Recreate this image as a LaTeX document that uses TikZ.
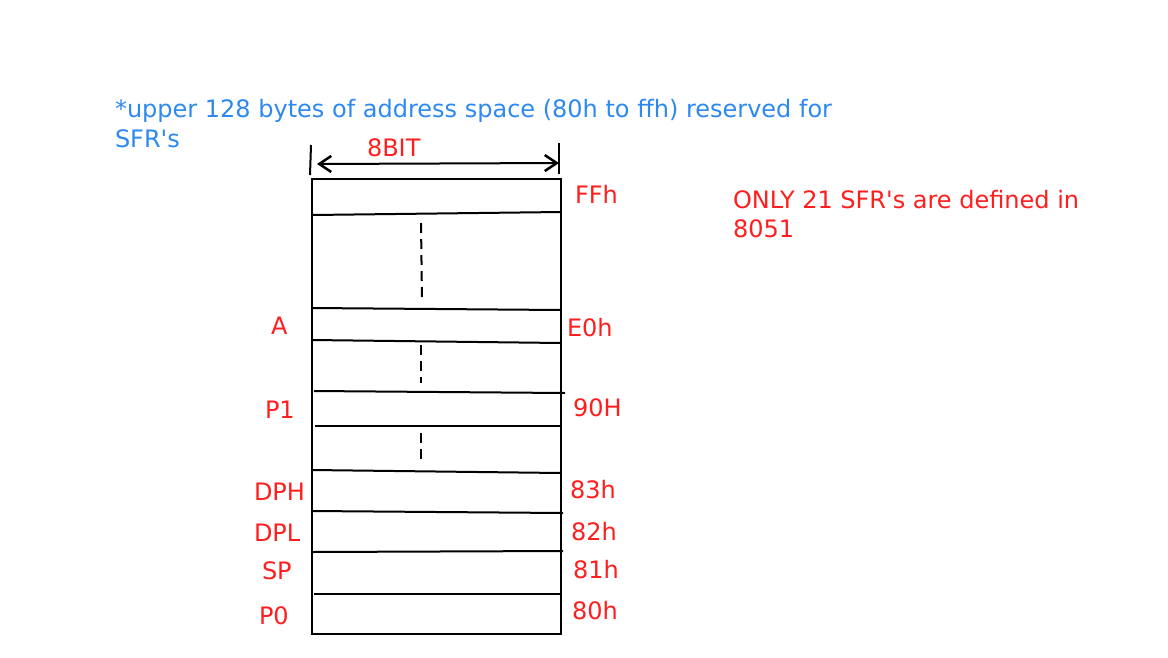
\documentclass[tikz,border=0pt]{standalone}
\usepackage{fontspec}
\setmainfont{DejaVu Sans}
\usetikzlibrary{arrows.meta}
\definecolor{noteblue}{RGB}{45,137,240}
\definecolor{labred}{RGB}{255,30,30}
\tikzset{
  lbl/.style={anchor=base west, inner sep=0pt, outer sep=0pt, text=labred, font=\fontsize{24}{30}\selectfont},
  note/.style={lbl, text=noteblue},
  rule/.style={line width=2pt, black},
  dots/.style={line width=2pt, black, dash pattern=on 10pt off 6pt},
}
\begin{document}
\begin{tikzpicture}[x=1pt,y=-1pt]
\useasboundingbox (0,0) rectangle (1168,657);
% box
\coordinate (tl) at (312,179);
\coordinate (br) at (561,634);
\draw[rule] (tl) rectangle (br);
% row lines
\coordinate (a1) at (312,215); \coordinate (b1) at (561,212);
\coordinate (a2) at (312,308); \coordinate (b2) at (561,310);
\coordinate (a3) at (312,340); \coordinate (b3) at (561,343);
\coordinate (a4) at (314,391); \coordinate (b4) at (565,393);
\coordinate (a5) at (315,426); \coordinate (b5) at (561,426);
\coordinate (a6) at (312,470); \coordinate (b6) at (561,473);
\coordinate (a7) at (312,511); \coordinate (b7) at (563,513);
\coordinate (a8) at (312,552); \coordinate (b8) at (563,551);
\coordinate (a9) at (314,594); \coordinate (b9) at (561,594);
\foreach \i in {1,...,9} { \draw[rule] (a\i) -- (b\i); }
% dashed continuation marks
\coordinate (d1s) at (421,223); \coordinate (d1e) at (422,300);
\coordinate (d2s) at (421,345); \coordinate (d2e) at (421,383);
\coordinate (d3s) at (421,433); \coordinate (d3e) at (421,460);
\draw[dots] (d1s) -- (d1e);
\draw[dots] (d2s) -- (d2e);
\draw[dots] (d3s) -- (d3e);
% width dimension
\coordinate (t1a) at (311,145); \coordinate (t1b) at (310,175);
\coordinate (t2a) at (559,143); \coordinate (t2b) at (559,174);
\draw[rule] (t1a) -- (t1b);
\draw[rule] (t2a) -- (t2b);
\coordinate (arL) at (317,164); \coordinate (arR) at (559,163);
\draw[rule, {Straight Barb[length=12pt,width=16pt,line width=2.5pt]}-{Straight Barb[length=12pt,width=16pt,line width=2.5pt]}] (arL) -- (arR);
\node[lbl] (bits) at (367,156) {8BIT};
% notes
\node[note] (n1) at (115,117) {*upper 128 bytes of address space (80h to ffh) reserved for};
\node[note] (n2) at (115,147) {SFR\textquotesingle s};
\node[lbl] (o1) at (733,208) {ONLY 21 SFR\textquotesingle s are defined in};
\node[lbl] (o2) at (733,237) {8051};
% left labels
\node[lbl] (lA) at (271,334) {A};
\node[lbl] (lP1) at (265,418) {P1};
\node[lbl] (lDPH) at (254,500) {DPH};
\node[lbl] (lDPL) at (254,541) {DPL};
\node[lbl] (lSP) at (262,579) {SP};
\node[lbl] (lP0) at (259,624) {P0};
% right labels
\node[lbl] (rFF) at (575,203) {FFh};
\node[lbl] (rE0) at (567,336) {E0h};
\node[lbl] (r90) at (573,416) {90H};
\node[lbl] (r83) at (570,498) {83h};
\node[lbl] (r82) at (571,540) {82h};
\node[lbl] (r81) at (573,578) {81h};
\node[lbl] (r80) at (572,619) {80h};
\end{tikzpicture}
\end{document}
